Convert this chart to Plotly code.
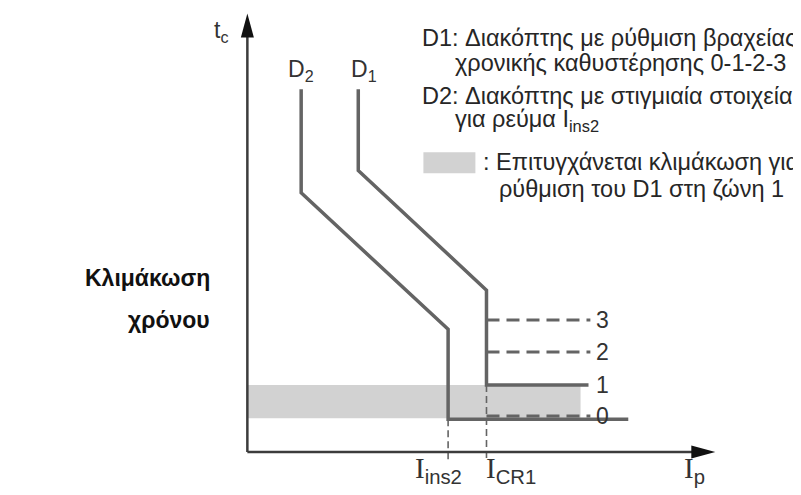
import plotly.graph_objects as go

# ---------------- data (current I on x, time t on y, arbitrary units) -------------
D2_I = [11.5, 11.5, 42.9, 42.9, 81.4]
D2_t = [82.7, 59.1, 28.0, 7.5, 7.5]
D1_I = [23.7, 23.7, 51.1, 51.1, 72.9]
D1_t = [82.7, 64.2, 36.9, 15.3, 15.3]
zone_labels = ["3", "2", "1", "0"]
zone_t = [30.1, 22.8, 15.3, 8.2]
zone_dashed = [True, True, False, True]
zone_end = 73.3
I_ins2 = 42.9
I_CR1 = 51.1
shade_I = [0.0, 71.2]
shade_t = [7.7, 15.3]
tick_bottom = -1.8

legend_lines = [
    "D1: Διακόπτης με ρύθμιση βραχείας",
    "χρονικής καθυστέρησης 0-1-2-3",
    "D2: Διακόπτης με στιγμιαία στοιχεία",
    "για ρεύμα I<sub>ins2</sub>",
    ": Επιτυγχάνεται κλιμάκωση για",
    "ρύθμιση του D1 στη ζώνη 1",
]
side_title = ["Κλιμάκωση", "χρόνου"]

# ---------------- layout geometry ----------------
W, H = 801, 495
OFF = 8  # default page body margin
XR = [-2, 101]
YR = [-5, 101]
PW, PH = 482.0, 465.3
ML, MT = 237.6 - OFF, 8.6 - OFF
MR = W - ML - PW
MB = H - MT - PH


def px(x):  # window pixel x -> paper
    return (x - OFF - ML) / PW


def py(y):  # window pixel y -> paper
    return (H - MB - (y - OFF)) / PH


CURVE = "#646464"
AXIS = "#3c3c3c"
TXT = "#262626"
SANS = "Liberation Sans, Arial, sans-serif"
SER = "Liberation Serif, Times New Roman, serif"

fig = go.Figure()

# shaded zone
fig.add_shape(type="rect", xref="x", yref="y", x0=shade_I[0], x1=shade_I[1],
              y0=shade_t[0], y1=shade_t[1], fillcolor="#d2d2d2", line_width=0, layer="below")

# vertical dashed drop lines
for xv, tv in [(I_ins2, D2_t[-1]), (I_CR1, D1_t[-1])]:
    fig.add_trace(go.Scatter(x=[xv, xv], y=[tv, tick_bottom], mode="lines",
                             line=dict(color=CURVE, width=1.6, dash="7px,4px"), hoverinfo="skip"))

# dashed zone lines + zone labels
for lab, t, dashed in zip(zone_labels, zone_t, zone_dashed):
    if dashed:
        fig.add_trace(go.Scatter(x=[I_CR1, zone_end], y=[t, t], mode="lines",
                                 line=dict(color=CURVE, width=3, dash="13px,7px"), hoverinfo="skip"))
    fig.add_annotation(x=zone_end + 2.5, y=t, xref="x", yref="y", text=lab, showarrow=False,
                       font=dict(family=SANS, size=23, color="#333333"), xanchor="center", yanchor="middle")

# curves
fig.add_trace(go.Scatter(x=D2_I, y=D2_t, mode="lines", line=dict(color=CURVE, width=3.5), hoverinfo="skip"))
fig.add_trace(go.Scatter(x=D1_I, y=D1_t, mode="lines", line=dict(color=CURVE, width=3.5), hoverinfo="skip"))

# axes lines with arrow heads
fig.add_shape(type="line", xref="x", yref="y", x0=0, y0=0, x1=97, y1=0, line=dict(color=AXIS, width=2.5))
fig.add_shape(type="line", xref="x", yref="y", x0=0, y0=0, x1=0, y1=96, line=dict(color=AXIS, width=2.5))
fig.add_shape(type="path", xref="x", yref="y", xsizemode="pixel", ysizemode="pixel",
              xanchor=100, yanchor=0, path="M -24,-6.5 L 0,0 L -24,6.5 Z",
              fillcolor="#111111", line_width=0)
fig.add_shape(type="path", xref="x", yref="y", xsizemode="pixel", ysizemode="pixel",
              xanchor=0, yanchor=100, path="M -6.5,-24 L 0,0 L 6.5,-24 Z",
              fillcolor="#111111", line_width=0)

# curve labels
fig.add_annotation(xref="paper", yref="paper", x=px(286), y=py(54), text="D<sub>2</sub>", showarrow=False,
                   font=dict(family=SANS, size=23, color="#333333"))
fig.add_annotation(xref="paper", yref="paper", x=px(349), y=py(54), text="D<sub>1</sub>", showarrow=False,
                   font=dict(family=SANS, size=23, color="#333333"))


def ilabel(sub):
    return f"<span style='font-family:{SER}'>I</span><sub>{sub}</sub>"


fig.add_annotation(xref="paper", yref="paper", x=px(438), y=py(490), text=ilabel("ins2"),
                   showarrow=False, font=dict(family=SANS, size=29, color="#333333"))
fig.add_annotation(xref="paper", yref="paper", x=px(484), y=py(490), text=ilabel("CR1"),
                   showarrow=False, xanchor="left", font=dict(family=SANS, size=29, color="#333333"))
fig.add_annotation(xref="paper", yref="paper", x=px(707), y=py(490), text=ilabel("p"),
                   showarrow=False, font=dict(family=SANS, size=29, color="#333333"))
fig.add_annotation(xref="paper", yref="paper", x=px(212), y=py(15), text="t<sub>c</sub>",
                   showarrow=False, font=dict(family=SANS, size=23, color="#333333"))

# legend text
leg_pos = [(420, 38), (453, 63), (420, 96), (453, 120), (481, 162), (497, 189)]
for txt, (lx, ly) in zip(legend_lines, leg_pos):
    fig.add_annotation(xref="paper", yref="paper", x=px(lx), y=py(ly), text=txt, showarrow=False,
                       xanchor="left", yanchor="middle", font=dict(family=SANS, size=23.5, color=TXT))
fig.add_shape(type="rect", xref="paper", yref="paper", x0=px(423), x1=px(475), y0=py(173), y1=py(152),
              fillcolor="#d2d2d2", line_width=0)

# side title
for txt, ty in zip(side_title, [278, 320]):
    fig.add_annotation(xref="paper", yref="paper", x=px(212), y=py(ty), text=f"<b>{txt}</b>",
                       showarrow=False, xanchor="right", yanchor="middle",
                       font=dict(family=SANS, size=23, color="#111111"))

fig.update_layout(
    width=W, height=H, autosize=False,
    margin=dict(l=ML, r=MR, t=MT, b=MB, pad=0),
    paper_bgcolor="white", plot_bgcolor="white",
    showlegend=False,
    xaxis=dict(range=XR, visible=False, fixedrange=True),
    yaxis=dict(range=YR, visible=False, fixedrange=True),
)

fig.write_html("out.html")
